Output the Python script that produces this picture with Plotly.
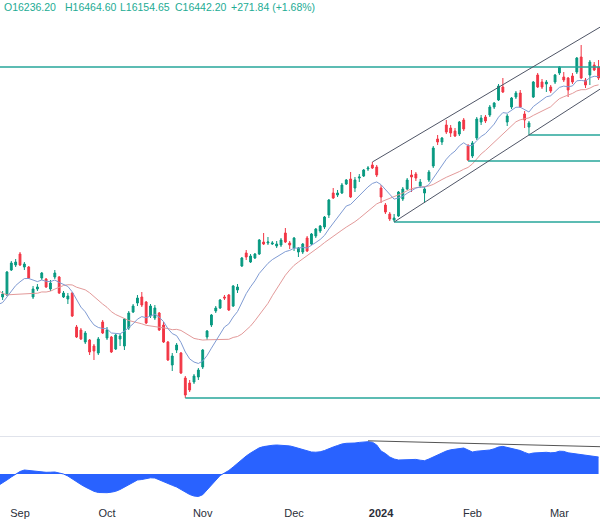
import plotly.graph_objects as go
import pandas as pd

# ---------------- data ----------------
# closes before the visible window (Jul 31 - Aug 25 2023), used only for moving averages
warmup_close = [14640, 14580, 14310, 14290, 14250, 14340, 14230, 14080, 14100, 14010,
                14140, 14000, 13860, 13720, 13700, 13880, 13890, 14080, 13850, 13960]

open_ = [14030, 14050, 14300, 14350, 14460, 14330, 14330, 14030, 14110, 14220,
         14210, 14110, 14230, 14230, 14030, 14010, 14070, 13730, 13700, 13580,
         13600, 13540, 13470, 13780, 13620, 13630, 13510, 13610, 13540, 13720,
         13880, 13970, 14030, 13980, 13840, 13820, 13870, 13750, 13580, 13350,
         13500, 13470, 13220, 13170, 13180, 13230, 13330, 13630, 13750, 13890,
         13920, 14030, 14050, 13940, 14100, 14340, 14470, 14380, 14420, 14460,
         14580, 14570, 14560, 14540, 14550, 14670, 14570, 14520, 14480, 14480,
         14620, 14560, 14640, 14690, 14730, 14850, 15070, 15050, 15070, 15160,
         15210, 15120, 15220, 15240, 15310, 15350, 15330, 15120, 14950, 14860,
         14800, 14840, 15010, 15110, 15250, 15260, 15140, 15070, 15200, 15340,
         15610, 15580, 15750, 15720, 15690, 15660, 15800, 15540, 15440, 15620,
         15780, 15830, 15850, 15930, 16000, 16130, 15780, 15930, 16030, 16070,
         15860, 15730, 16030, 16250, 16180, 16160, 16130, 16180, 16270, 16230,
         16220, 16240, 16280, 16430, 16200, 16250, 16350, 16330]
high = [14090, 14290, 14390, 14410, 14480, 14380, 14340, 14140, 14160, 14280,
        14220, 14200, 14300, 14240, 14090, 14070, 14080, 13750, 13720, 13690,
        13610, 13560, 13630, 13800, 13730, 13640, 13660, 13660, 13820, 13890,
        13960, 14050, 14080, 13990, 13960, 13950, 13880, 13780, 13590, 13470,
        13570, 13480, 13240, 13200, 13260, 13320, 13510, 13700, 13860, 13940,
        14010, 14050, 14060, 14150, 14160, 14430, 14500, 14460, 14470, 14610,
        14670, 14630, 14590, 14590, 14620, 14720, 14590, 14630, 14530, 14570,
        14640, 14670, 14720, 14750, 14840, 15010, 15120, 15100, 15170, 15210,
        15280, 15230, 15260, 15310, 15340, 15380, 15350, 15150, 14970, 14880,
        14860, 15090, 15130, 15220, 15300, 15280, 15210, 15130, 15300, 15540,
        15650, 15630, 15800, 15750, 15720, 15790, 15820, 15560, 15590, 15830,
        15850, 15850, 15950, 15980, 16160, 16220, 15860, 16030, 16090, 16100,
        15890, 15790, 16190, 16270, 16210, 16200, 16150, 16260, 16340, 16280,
        16230, 16270, 16430, 16550, 16220, 16400, 16380, 16400]
low = [14000, 14040, 14290, 14330, 14340, 14300, 14210, 14010, 14090, 14200,
       14120, 14090, 14210, 14060, 14020, 13960, 13830, 13620, 13600, 13560,
       13450, 13400, 13450, 13660, 13600, 13470, 13500, 13540, 13500, 13700,
       13870, 13940, 13930, 13760, 13820, 13800, 13690, 13570, 13390, 13290,
       13470, 13260, 13020, 13080, 13160, 13200, 13310, 13600, 13730, 13870,
       13910, 14000, 13890, 13930, 14070, 14330, 14400, 14370, 14410, 14450,
       14550, 14550, 14550, 14520, 14530, 14570, 14510, 14490, 14430, 14460,
       14480, 14550, 14620, 14670, 14710, 14820, 15010, 15030, 15060, 15150,
       15020, 15080, 15180, 15230, 15290, 15310, 15230, 14970, 14860, 14790,
       14780, 14830, 14990, 15100, 15080, 15190, 15120, 14970, 15180, 15320,
       15550, 15550, 15660, 15630, 15630, 15640, 15690, 15390, 15420, 15600,
       15750, 15770, 15830, 15910, 15990, 16070, 15740, 15910, 16010, 15920,
       15720, 15650, 16020, 16120, 16110, 16080, 16070, 16160, 16250, 16180,
       16030, 16160, 16260, 16210, 16120, 16150, 16290, 16200]
close = [14060, 14280, 14370, 14380, 14350, 14360, 14220, 14110, 14130, 14270,
         14130, 14170, 14270, 14070, 14070, 14040, 13840, 13630, 13610, 13670,
         13480, 13490, 13610, 13670, 13700, 13480, 13650, 13640, 13810, 13870,
         13940, 14020, 13950, 13770, 13940, 13920, 13700, 13580, 13400, 13440,
         13550, 13270, 13050, 13100, 13240, 13300, 13500, 13690, 13850, 13920,
         14000, 14020, 13900, 14140, 14130, 14420, 14430, 14440, 14460, 14600,
         14560, 14580, 14570, 14560, 14600, 14580, 14550, 14620, 14520, 14560,
         14490, 14660, 14710, 14740, 14830, 15000, 15020, 15070, 15150, 15200,
         15030, 15200, 15230, 15300, 15320, 15320, 15250, 15030, 14880, 14810,
         14820, 15080, 15110, 15200, 15230, 15220, 15180, 15110, 15280, 15520,
         15580, 15620, 15680, 15670, 15640, 15780, 15710, 15400, 15570, 15810,
         15820, 15790, 15930, 15970, 16140, 16080, 15840, 16020, 16070, 15930,
         15800, 15770, 16180, 16130, 16130, 16180, 16090, 16250, 16330, 16200,
         16100, 16180, 16420, 16220, 16150, 16380, 16300, 16220]

# lower-panel oscillator, starting one bar before the first candle (Aug 25)
osc = [-11.5,
       -9, -6, -3, 0, 2.5, 4, 3.5, 3, 2.4, 2,
       1.7, 1.8, 2, 1, 0, -2, -5, -7.7, -10.5, -13,
       -15.5, -17.3, -18.5, -18.7, -18.7, -18.2, -17.3, -15.5, -13.2, -10.8,
       -8.5, -6, -5.5, -4.8, -3.8, -4, -6, -7.8, -9.8, -11.3,
       -13, -15.5, -18, -20.5, -22, -22.5, -20.7, -16, -11, -6,
       -1.5, 1, 3.5, 7, 11, 14.7, 18, 21, 24, 26.2,
       27.4, 28.3, 28.7, 29, 28.8, 28.5, 28.1, 27, 25.7, 24.2,
       22.8, 22, 21.8, 22.2, 23.5, 25.5, 27, 28.5, 30, 30.7,
       30.7, 31, 31.6, 32, 32.3, 31.8, 29, 23, 20.5, 17,
       15, 14, 14, 14.1, 14.4, 14.6, 13.8, 13.3, 15, 17,
       19.5, 21.3, 23, 24.2, 24.6, 25, 26, 24, 22, 22.8,
       23.1, 23.3, 24, 25.2, 27, 27.6, 26.7, 25.8, 25, 23.5,
       21.6, 20, 21, 21.4, 21.5, 21.7, 21.2, 21.5, 22.8, 22.6,
       21.2, 20.6, 20.1, 19.6, 19, 18.4, 17.8, 17]

resistance_level = 16330
support_start_idx = [42, 90, 107, 121]          # bars whose lows start the horizontal levels
channel_upper = [(85, 15380), (137.4, 16730)]   # (bar, price) anchors
channel_lower = [(90, 14780), (121, 15650)]
osc_trend = [(84, 33.2), (137.4, 27.3)]

header = [("O16236.20", 2), ("H16464.60", 63), ("L16154.65", 118),
          ("C16442.20", 173), ("+271.84 (+1.68%)", 229)]

# ---------------- calendar ----------------
holidays = pd.to_datetime(["2023-09-04", "2023-11-23", "2023-12-25",
                           "2024-01-01", "2024-01-15", "2024-02-19"])
dates = pd.bdate_range("2023-08-28", "2024-03-14")
dates = dates[~dates.isin(holidays)]
n = len(close)
xs = list(range(n))

tickvals, ticktext = [], []
for i, d in enumerate(dates[:n]):
    if i == 0 or d.month != dates[i - 1].month:
        if d.day <= 5 and i > 0 or (i == 0 and d.day == 1):
            tickvals.append(i)
            ticktext.append("<b>2024</b>" if d.month == 1 else d.strftime("%b"))

# ---------------- indicators ----------------
all_close = pd.Series(warmup_close + close)
all_x = list(range(-len(warmup_close), n))
ema_fast = all_close.ewm(span=10, adjust=False).mean()
sma_slow = all_close.rolling(20).mean()

GREEN = "#089981"
RED = "#f23645"
TEAL = "#26a69a"

fig = go.Figure()
fig.add_trace(go.Scatter(x=all_x, y=sma_slow, mode="lines",
                         line=dict(color="#e39a9a", width=1), hoverinfo="skip"))
fig.add_trace(go.Scatter(x=all_x, y=ema_fast, mode="lines",
                         line=dict(color="#7f9bd3", width=1), hoverinfo="skip"))
fig.add_trace(go.Candlestick(
    x=xs, open=open_, high=high, low=low, close=close,
    increasing=dict(line=dict(color=GREEN, width=1), fillcolor=GREEN),
    decreasing=dict(line=dict(color=RED, width=1), fillcolor=RED),
    whiskerwidth=0))

XMAX = 137.33
XMIN = -0.6
# horizontal levels
fig.add_trace(go.Scatter(x=[XMIN - 5, XMAX + 5], y=[resistance_level] * 2, mode="lines",
                         line=dict(color=TEAL, width=1.3), hoverinfo="skip"))
for s in support_start_idx:
    fig.add_trace(go.Scatter(x=[s, XMAX + 5], y=[low[s], low[s]], mode="lines",
                             line=dict(color=TEAL, width=1.3), hoverinfo="skip"))

# channel lines
def extend(anchors, x_end):
    (x0, y0), (x1, y1) = anchors
    slope = (y1 - y0) / (x1 - x0)
    return [x0, x_end], [y0, y0 + slope * (x_end - x0)]

for anc in (channel_upper, channel_lower):
    lx, ly = extend(anc, XMAX + 2)
    fig.add_trace(go.Scatter(x=lx, y=ly, mode="lines",
                             line=dict(color="#4f5566", width=1), hoverinfo="skip"))

# oscillator
osc_x = list(range(-1, n))
fig.add_trace(go.Scatter(x=osc_x, y=osc, mode="lines", fill="tozeroy",
                         line=dict(color="#2962ff", width=1), fillcolor="#2962ff",
                         yaxis="y2", hoverinfo="skip"))
tx, ty = extend(osc_trend, XMAX + 2)
fig.add_trace(go.Scatter(x=tx, y=ty, mode="lines", line=dict(color="#555", width=1),
                         yaxis="y2", hoverinfo="skip"))

H = 522
main_bottom_px = 432
fig.update_layout(
    width=600, height=H, template="none",
    margin=dict(l=0, r=0, t=0, b=0),
    paper_bgcolor="white", plot_bgcolor="white",
    showlegend=False, boxgap=0.4,
    xaxis=dict(range=[XMIN, XMAX], anchor="y2", showgrid=False, zeroline=False,
               showline=False, ticks="", tickvals=tickvals, ticktext=ticktext,
               tickfont=dict(family="Liberation Sans", size=11, color="#2a2e39"),
               rangeslider=dict(visible=False), automargin=False),
    yaxis=dict(domain=[1 - main_bottom_px / H, 1], range=[17000 - 10 * main_bottom_px, 17000],
               showgrid=False, zeroline=False, showticklabels=False, automargin=False),
    yaxis2=dict(domain=[17 / H, 85 / H], range=[-31, 37], showgrid=False,
                zeroline=False, showticklabels=False, automargin=False),
    shapes=[dict(type="line", xref="paper", yref="paper", x0=0, x1=1,
                 y0=1 - 436.5 / H, y1=1 - 436.5 / H, line=dict(color="#e0e3eb", width=1))],
)
for txt, px in header:
    fig.add_annotation(text=txt, xref="paper", yref="paper", x=px / 600, y=1 - 7 / H,
                       xanchor="left", yanchor="middle", showarrow=False,
                       font=dict(family="Liberation Sans", size=10.5, color="#22ab94"))

fig.write_html("out.html")
